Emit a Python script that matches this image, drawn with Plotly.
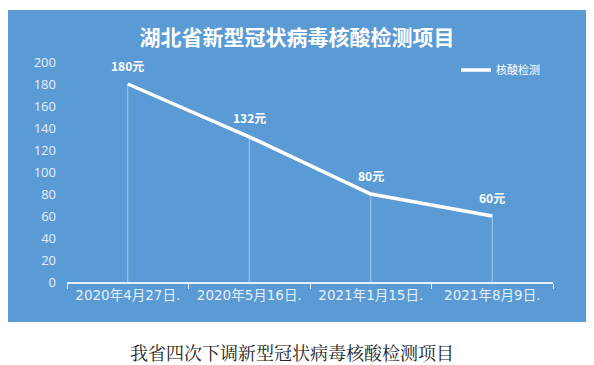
import plotly.graph_objects as go

categories = ["2020年4月27日.", "2020年5月16日.", "2021年1月15日.", "2021年8月9日."]
prices = [180, 132, 80, 60]
labels = ["180元", "132元", "80元", "60元"]
series_name = "核酸检测"
title_text = "湖北省新型冠状病毒核酸检测项目"
caption_text = "我省四次下调新型冠状病毒核酸检测项目"
y_ticks = [0, 20, 40, 60, 80, 100, 120, 140, 160, 180, 200]

BLUE = "#5b9bd5"
LIGHT = "#e6eff9"
W, H = 594, 365
L, R, T, B = 67, 41, 62, 83
pw, ph = W - L - R, H - T - B

def px_x(p):
    return (p - L) / pw

def px_y(p):
    return (H - B - p) / ph

fig = go.Figure()

# drop lines from each point to the axis
fig.add_trace(go.Scatter(
    x=categories, y=prices, mode="markers",
    marker=dict(size=1, color="rgba(0,0,0,0)"),
    error_y=dict(type="data", symmetric=False, array=[0] * len(prices),
                 arrayminus=prices, color="rgba(255,255,255,0.45)",
                 thickness=1, width=0),
    showlegend=False, hoverinfo="skip",
))

fig.add_trace(go.Scatter(
    x=categories, y=prices, mode="lines", name=series_name,
    line=dict(color="white", width=3.5),
))

annotations = [
    dict(x=c, y=v, text=t, xref="x", yref="y", showarrow=False,
         yshift=19, xanchor="center", yanchor="middle",
         font=dict(family="Noto Sans CJK SC, DejaVu Sans", size=12,
                   color="white", weight="bold"))
    for c, v, t in zip(categories, prices, labels)
]
annotations.append(dict(text=caption_text, xref="paper", yref="paper",
                        x=px_x(292), y=px_y(352), xanchor="center", yanchor="middle",
                        showarrow=False,
                        font=dict(size=18, color="#222222",
                                  family="Noto Serif CJK SC, serif, Noto Sans CJK SC")))

fig.update_layout(
    width=W, height=H,
    margin=dict(l=L, r=R, t=T, b=B),
    paper_bgcolor="white",
    plot_bgcolor="rgba(0,0,0,0)",
    font=dict(family="Noto Sans CJK SC, DejaVu Sans", color=LIGHT),
    showlegend=True,
    legend=dict(x=px_x(456), y=px_y(70), xanchor="left", yanchor="middle",
                bgcolor="rgba(0,0,0,0)", itemwidth=30,
                font=dict(size=11, color="white", family="Noto Sans CJK SC")),
    title=dict(text=title_text, x=0.5, xref="container", xanchor="center",
               y=1 - 38 / H, yref="container", yanchor="middle",
               font=dict(size=21, color="white", family="Noto Sans CJK SC", weight="bold")),
    shapes=[dict(type="rect", xref="paper", yref="paper",
                 x0=px_x(8), x1=px_x(586), y0=px_y(322), y1=px_y(10),
                 fillcolor=BLUE, line=dict(width=0), layer="below")],
    annotations=annotations,
)

fig.update_xaxes(
    type="category", range=[-0.5, len(categories) - 0.5],
    tickson="boundaries", ticks="outside", ticklen=5,
    tickcolor=LIGHT, showline=True, linecolor=LIGHT, linewidth=1.5,
    showgrid=False, zeroline=False,
    tickfont=dict(size=13.5, color=LIGHT, family="DejaVu Sans, Noto Sans CJK SC"),
    fixedrange=True,
)
fig.update_yaxes(
    range=[0, 200], tickvals=y_ticks, showgrid=False, zeroline=False,
    showline=False, ticks="", ticklabelstandoff=10,
    tickfont=dict(size=13, color=LIGHT, family="Open Sans, DejaVu Sans"),
    fixedrange=True,
)

fig.write_html("out.html", config={"displayModeBar": False},
               post_script="document.body.style.margin='0';")
